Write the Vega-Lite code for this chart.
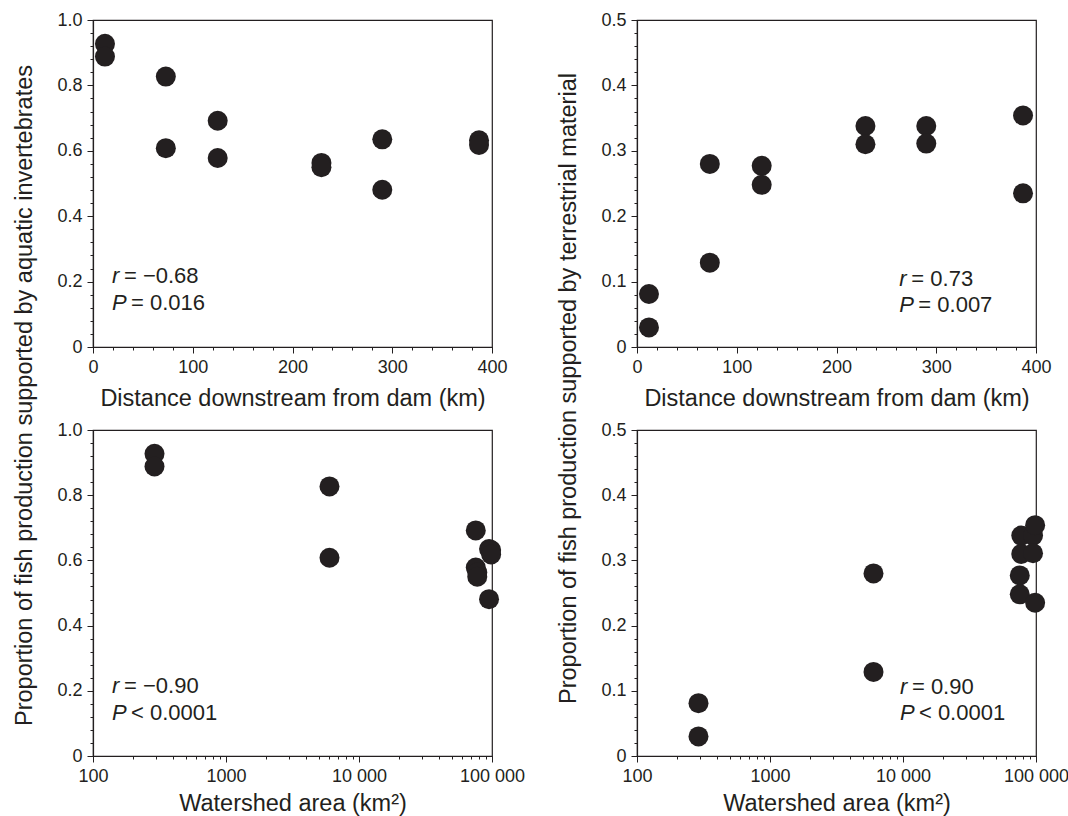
{
  "$schema": "https://vega.github.io/schema/vega-lite/v6.json",
  "background": "white",
  "padding": {"left": 11, "top": 10, "right": 5, "bottom": 0},
  "datasets": {
    "fish": [
      {"distance": 12, "area": 290, "aquatic": 0.927, "terrestrial": 0.081},
      {"distance": 12, "area": 290, "aquatic": 0.888, "terrestrial": 0.030},
      {"distance": 73, "area": 6000, "aquatic": 0.827, "terrestrial": 0.280},
      {"distance": 73, "area": 6000, "aquatic": 0.608, "terrestrial": 0.129},
      {"distance": 125, "area": 75500, "aquatic": 0.692, "terrestrial": 0.277},
      {"distance": 125, "area": 75500, "aquatic": 0.578, "terrestrial": 0.248},
      {"distance": 229, "area": 77500, "aquatic": 0.563, "terrestrial": 0.338},
      {"distance": 229, "area": 77500, "aquatic": 0.550, "terrestrial": 0.310},
      {"distance": 290, "area": 95000, "aquatic": 0.635, "terrestrial": 0.338},
      {"distance": 290, "area": 95000, "aquatic": 0.481, "terrestrial": 0.311},
      {"distance": 387, "area": 98500, "aquatic": 0.632, "terrestrial": 0.354},
      {"distance": 387, "area": 98500, "aquatic": 0.618, "terrestrial": 0.235}
    ]
  },
  "data": {"name": "fish"},
  "columns": 2,
  "spacing": {"row": 83, "column": 145},
  "bounds": "flush",
  "concat": [
    {
      "width": 399, "height": 327,
      "layer": [
        {"mark": {"type": "circle", "size": 400, "opacity": 1, "color": "#231f20"},
         "encoding": {
           "x": {"field": "distance", "type": "quantitative", "scale": {"domain": [0, 400], "nice": false},
                 "axis": {"orient": "bottom", "values": [0, 100, 200, 300, 400], "title": "Distance downstream from dam (km)", "titleY": 58, "titleBaseline": "alphabetic"}},
           "y": {"field": "aquatic", "type": "quantitative", "scale": {"domain": [0, 1], "nice": false},
                 "axis": {"orient": "left", "values": [0, 0.2, 0.4, 0.6, 0.8, 1], "labelExpr": "datum.value == 0 ? '0' : format(datum.value, '.1f')", "title": "Proportion of fish production supported by aquatic invertebrates", "titleX": -62, "titleY": 375, "titleBaseline": "alphabetic", "titleAngle": 270, "titleAlign": "center"}}
         }},
        {"mark": {"type": "circle", "opacity": 0},
         "encoding": {
           "x": {"field": "distance", "type": "quantitative", "scale": {"domain": [0, 400], "nice": false},
                 "axis": {"orient": "bottom", "values": [20, 40, 60, 80, 120, 140, 160, 180, 220, 240, 260, 280, 320, 340, 360, 380], "labels": false, "domain": false, "tickSize": 3, "title": null}},
           "y": {"field": "aquatic", "type": "quantitative", "scale": {"domain": [0, 1], "nice": false},
                 "axis": {"orient": "left", "values": [0.04, 0.08, 0.12, 0.16, 0.24, 0.28, 0.32, 0.36, 0.44, 0.48, 0.52, 0.56, 0.64, 0.68, 0.72, 0.76, 0.84, 0.88, 0.92, 0.96], "labels": false, "domain": false, "tickSize": 3, "title": null}}
         }},
        {"data": {"values": [{}]},
         "mark": {"type": "text", "text": "r", "fontStyle": "italic", "fontSize": 22, "align": "left", "baseline": "alphabetic", "color": "#231f20"},
         "encoding": {"x": {"datum": 19, "type": "quantitative", "scale": {"domain": [0, 400], "nice": false}, "axis": null}, "y": {"datum": 0.195, "type": "quantitative", "scale": {"domain": [0, 1], "nice": false}, "axis": null}}},
        {"data": {"values": [{}]},
         "mark": {"type": "text", "text": "= −0.68", "fontSize": 22, "align": "left", "baseline": "alphabetic", "dx": 12, "color": "#231f20"},
         "encoding": {"x": {"datum": 19, "type": "quantitative", "scale": {"domain": [0, 400], "nice": false}, "axis": null}, "y": {"datum": 0.195, "type": "quantitative", "scale": {"domain": [0, 1], "nice": false}, "axis": null}}},
        {"data": {"values": [{}]},
         "mark": {"type": "text", "text": "P", "fontStyle": "italic", "fontSize": 22, "align": "left", "baseline": "alphabetic", "color": "#231f20"},
         "encoding": {"x": {"datum": 19, "type": "quantitative", "scale": {"domain": [0, 400], "nice": false}, "axis": null}, "y": {"datum": 0.112, "type": "quantitative", "scale": {"domain": [0, 1], "nice": false}, "axis": null}}},
        {"data": {"values": [{}]},
         "mark": {"type": "text", "text": "= 0.016", "fontSize": 22, "align": "left", "baseline": "alphabetic", "dx": 19, "color": "#231f20"},
         "encoding": {"x": {"datum": 19, "type": "quantitative", "scale": {"domain": [0, 400], "nice": false}, "axis": null}, "y": {"datum": 0.112, "type": "quantitative", "scale": {"domain": [0, 1], "nice": false}, "axis": null}}}
      ],
      "resolve": {"axis": {"x": "independent", "y": "independent"}}
    },
    {
      "width": 399, "height": 327,
      "layer": [
        {"mark": {"type": "circle", "size": 400, "opacity": 1, "color": "#231f20"},
         "encoding": {
           "x": {"field": "distance", "type": "quantitative", "scale": {"domain": [0, 400], "nice": false},
                 "axis": {"orient": "bottom", "values": [0, 100, 200, 300, 400], "title": "Distance downstream from dam (km)", "titleY": 58, "titleBaseline": "alphabetic"}},
           "y": {"field": "terrestrial", "type": "quantitative", "scale": {"domain": [0, 0.5], "nice": false},
                 "axis": {"orient": "left", "values": [0, 0.1, 0.2, 0.3, 0.4, 0.5], "labelExpr": "datum.value == 0 ? '0' : format(datum.value, '.1f')", "title": "Proportion of fish production supported by terrestrial material", "titleX": -62, "titleY": 368, "titleBaseline": "alphabetic", "titleAngle": 270, "titleAlign": "center"}}
         }},
        {"mark": {"type": "circle", "opacity": 0},
         "encoding": {
           "x": {"field": "distance", "type": "quantitative", "scale": {"domain": [0, 400], "nice": false},
                 "axis": {"orient": "bottom", "values": [20, 40, 60, 80, 120, 140, 160, 180, 220, 240, 260, 280, 320, 340, 360, 380], "labels": false, "domain": false, "tickSize": 3, "title": null}},
           "y": {"field": "terrestrial", "type": "quantitative", "scale": {"domain": [0, 0.5], "nice": false},
                 "axis": {"orient": "left", "values": [0.02, 0.04, 0.06, 0.08, 0.12, 0.14, 0.16, 0.18, 0.22, 0.24, 0.26, 0.28, 0.32, 0.34, 0.36, 0.38, 0.42, 0.44, 0.46, 0.48], "labels": false, "domain": false, "tickSize": 3, "title": null}}
         }},
        {"data": {"values": [{}]},
         "mark": {"type": "text", "text": "r", "fontStyle": "italic", "fontSize": 22, "align": "left", "baseline": "alphabetic", "color": "#231f20"},
         "encoding": {"x": {"datum": 263, "type": "quantitative", "scale": {"domain": [0, 400], "nice": false}, "axis": null}, "y": {"datum": 0.094, "type": "quantitative", "scale": {"domain": [0, 0.5], "nice": false}, "axis": null}}},
        {"data": {"values": [{}]},
         "mark": {"type": "text", "text": "= 0.73", "fontSize": 22, "align": "left", "baseline": "alphabetic", "dx": 12, "color": "#231f20"},
         "encoding": {"x": {"datum": 263, "type": "quantitative", "scale": {"domain": [0, 400], "nice": false}, "axis": null}, "y": {"datum": 0.094, "type": "quantitative", "scale": {"domain": [0, 0.5], "nice": false}, "axis": null}}},
        {"data": {"values": [{}]},
         "mark": {"type": "text", "text": "P", "fontStyle": "italic", "fontSize": 22, "align": "left", "baseline": "alphabetic", "color": "#231f20"},
         "encoding": {"x": {"datum": 263, "type": "quantitative", "scale": {"domain": [0, 400], "nice": false}, "axis": null}, "y": {"datum": 0.054, "type": "quantitative", "scale": {"domain": [0, 0.5], "nice": false}, "axis": null}}},
        {"data": {"values": [{}]},
         "mark": {"type": "text", "text": "= 0.007", "fontSize": 22, "align": "left", "baseline": "alphabetic", "dx": 19, "color": "#231f20"},
         "encoding": {"x": {"datum": 263, "type": "quantitative", "scale": {"domain": [0, 400], "nice": false}, "axis": null}, "y": {"datum": 0.054, "type": "quantitative", "scale": {"domain": [0, 0.5], "nice": false}, "axis": null}}}
      ],
      "resolve": {"axis": {"x": "independent", "y": "independent"}}
    },
    {
      "width": 399, "height": 326,
      "layer": [
        {"mark": {"type": "circle", "size": 400, "opacity": 1, "color": "#231f20"},
         "encoding": {
           "x": {"field": "area", "type": "quantitative", "scale": {"type": "log", "domain": [100, 100000], "nice": false},
                 "axis": {"orient": "bottom", "values": [100, 1000, 10000, 100000], "labelExpr": "datum.value >= 10000 ? replace(format(datum.value, ','), ',', ' ') : format(datum.value, 'd')", "title": "Watershed area (km²)", "titleY": 54, "titleBaseline": "alphabetic"}},
           "y": {"field": "aquatic", "type": "quantitative", "scale": {"domain": [0, 1], "nice": false},
                 "axis": {"orient": "left", "values": [0, 0.2, 0.4, 0.6, 0.8, 1], "labelExpr": "datum.value == 0 ? '0' : format(datum.value, '.1f')", "title": null}}
         }},
        {"mark": {"type": "circle", "opacity": 0},
         "encoding": {
           "x": {"field": "area", "type": "quantitative", "scale": {"type": "log", "domain": [100, 100000], "nice": false},
                 "axis": {"orient": "bottom", "values": [200, 300, 400, 500, 600, 700, 800, 900, 2000, 3000, 4000, 5000, 6000, 7000, 8000, 9000, 20000, 30000, 40000, 50000, 60000, 70000, 80000, 90000], "labels": false, "domain": false, "tickSize": 3, "title": null}},
           "y": {"field": "aquatic", "type": "quantitative", "scale": {"domain": [0, 1], "nice": false},
                 "axis": {"orient": "left", "values": [0.04, 0.08, 0.12, 0.16, 0.24, 0.28, 0.32, 0.36, 0.44, 0.48, 0.52, 0.56, 0.64, 0.68, 0.72, 0.76, 0.84, 0.88, 0.92, 0.96], "labels": false, "domain": false, "tickSize": 3, "title": null}}
         }},
        {"data": {"values": [{}]},
         "mark": {"type": "text", "text": "r", "fontStyle": "italic", "fontSize": 22, "align": "left", "baseline": "alphabetic", "color": "#231f20"},
         "encoding": {"x": {"datum": 139, "type": "quantitative", "scale": {"type": "log", "domain": [100, 100000], "nice": false}, "axis": null}, "y": {"datum": 0.194, "type": "quantitative", "scale": {"domain": [0, 1], "nice": false}, "axis": null}}},
        {"data": {"values": [{}]},
         "mark": {"type": "text", "text": "= −0.90", "fontSize": 22, "align": "left", "baseline": "alphabetic", "dx": 12, "color": "#231f20"},
         "encoding": {"x": {"datum": 139, "type": "quantitative", "scale": {"type": "log", "domain": [100, 100000], "nice": false}, "axis": null}, "y": {"datum": 0.194, "type": "quantitative", "scale": {"domain": [0, 1], "nice": false}, "axis": null}}},
        {"data": {"values": [{}]},
         "mark": {"type": "text", "text": "P", "fontStyle": "italic", "fontSize": 22, "align": "left", "baseline": "alphabetic", "color": "#231f20"},
         "encoding": {"x": {"datum": 139, "type": "quantitative", "scale": {"type": "log", "domain": [100, 100000], "nice": false}, "axis": null}, "y": {"datum": 0.111, "type": "quantitative", "scale": {"domain": [0, 1], "nice": false}, "axis": null}}},
        {"data": {"values": [{}]},
         "mark": {"type": "text", "text": "< 0.0001", "fontSize": 22, "align": "left", "baseline": "alphabetic", "dx": 19, "color": "#231f20"},
         "encoding": {"x": {"datum": 139, "type": "quantitative", "scale": {"type": "log", "domain": [100, 100000], "nice": false}, "axis": null}, "y": {"datum": 0.111, "type": "quantitative", "scale": {"domain": [0, 1], "nice": false}, "axis": null}}}
      ],
      "resolve": {"axis": {"x": "independent", "y": "independent"}}
    },
    {
      "width": 399, "height": 326,
      "layer": [
        {"mark": {"type": "circle", "size": 400, "opacity": 1, "color": "#231f20"},
         "encoding": {
           "x": {"field": "area", "type": "quantitative", "scale": {"type": "log", "domain": [100, 100000], "nice": false},
                 "axis": {"orient": "bottom", "values": [100, 1000, 10000, 100000], "labelExpr": "datum.value >= 10000 ? replace(format(datum.value, ','), ',', ' ') : format(datum.value, 'd')", "title": "Watershed area (km²)", "titleY": 54, "titleBaseline": "alphabetic"}},
           "y": {"field": "terrestrial", "type": "quantitative", "scale": {"domain": [0, 0.5], "nice": false},
                 "axis": {"orient": "left", "values": [0, 0.1, 0.2, 0.3, 0.4, 0.5], "labelExpr": "datum.value == 0 ? '0' : format(datum.value, '.1f')", "title": null}}
         }},
        {"mark": {"type": "circle", "opacity": 0},
         "encoding": {
           "x": {"field": "area", "type": "quantitative", "scale": {"type": "log", "domain": [100, 100000], "nice": false},
                 "axis": {"orient": "bottom", "values": [200, 300, 400, 500, 600, 700, 800, 900, 2000, 3000, 4000, 5000, 6000, 7000, 8000, 9000, 20000, 30000, 40000, 50000, 60000, 70000, 80000, 90000], "labels": false, "domain": false, "tickSize": 3, "title": null}},
           "y": {"field": "terrestrial", "type": "quantitative", "scale": {"domain": [0, 0.5], "nice": false},
                 "axis": {"orient": "left", "values": [0.02, 0.04, 0.06, 0.08, 0.12, 0.14, 0.16, 0.18, 0.22, 0.24, 0.26, 0.28, 0.32, 0.34, 0.36, 0.38, 0.42, 0.44, 0.46, 0.48], "labels": false, "domain": false, "tickSize": 3, "title": null}}
         }},
        {"data": {"values": [{}]},
         "mark": {"type": "text", "text": "r", "fontStyle": "italic", "fontSize": 22, "align": "left", "baseline": "alphabetic", "color": "#231f20"},
         "encoding": {"x": {"datum": 9480, "type": "quantitative", "scale": {"type": "log", "domain": [100, 100000], "nice": false}, "axis": null}, "y": {"datum": 0.095, "type": "quantitative", "scale": {"domain": [0, 0.5], "nice": false}, "axis": null}}},
        {"data": {"values": [{}]},
         "mark": {"type": "text", "text": "= 0.90", "fontSize": 22, "align": "left", "baseline": "alphabetic", "dx": 12, "color": "#231f20"},
         "encoding": {"x": {"datum": 9480, "type": "quantitative", "scale": {"type": "log", "domain": [100, 100000], "nice": false}, "axis": null}, "y": {"datum": 0.095, "type": "quantitative", "scale": {"domain": [0, 0.5], "nice": false}, "axis": null}}},
        {"data": {"values": [{}]},
         "mark": {"type": "text", "text": "P", "fontStyle": "italic", "fontSize": 22, "align": "left", "baseline": "alphabetic", "color": "#231f20"},
         "encoding": {"x": {"datum": 9480, "type": "quantitative", "scale": {"type": "log", "domain": [100, 100000], "nice": false}, "axis": null}, "y": {"datum": 0.0555, "type": "quantitative", "scale": {"domain": [0, 0.5], "nice": false}, "axis": null}}},
        {"data": {"values": [{}]},
         "mark": {"type": "text", "text": "< 0.0001", "fontSize": 22, "align": "left", "baseline": "alphabetic", "dx": 19, "color": "#231f20"},
         "encoding": {"x": {"datum": 9480, "type": "quantitative", "scale": {"type": "log", "domain": [100, 100000], "nice": false}, "axis": null}, "y": {"datum": 0.0555, "type": "quantitative", "scale": {"domain": [0, 0.5], "nice": false}, "axis": null}}}
      ],
      "resolve": {"axis": {"x": "independent", "y": "independent"}}
    }
  ],
  "config": {
    "font": "Liberation Sans",
    "view": {"stroke": "#231f20", "strokeWidth": 1.2},
    "axis": {
      "grid": false,
      "domainColor": "#231f20", "domainWidth": 1.2,
      "tickColor": "#231f20", "tickWidth": 1, "tickSize": 6,
      "labelColor": "#231f20", "labelFont": "Liberation Sans", "labelFontSize": 18, "labelPadding": 5,
      "labelFlush": false, "labelOverlap": false, "labelBound": false,
      "titleColor": "#231f20", "titleFont": "Liberation Sans", "titleFontSize": 23.5, "titleFontWeight": "normal"
    }
  }
}
